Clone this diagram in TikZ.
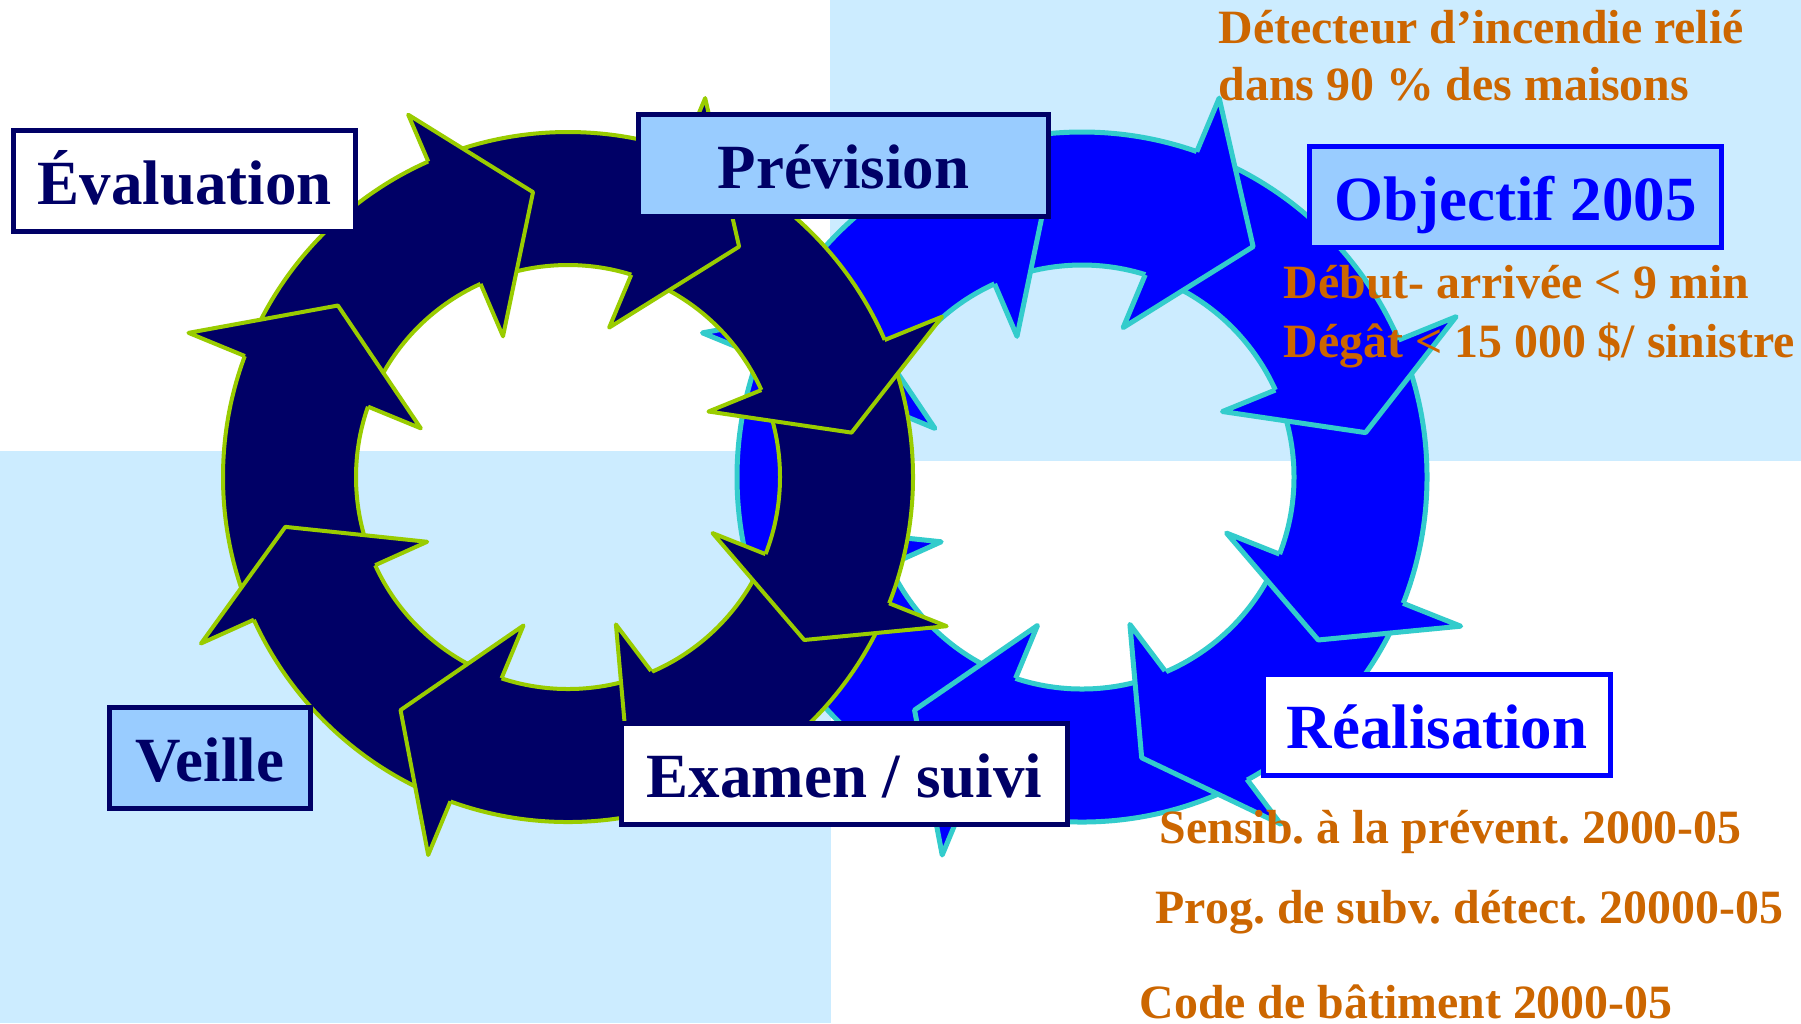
\documentclass[tikz,border=0pt]{standalone}
\usepackage{fontspec}
\setmainfont{Liberation Serif}
\usetikzlibrary{calc}
\frenchspacing

\definecolor{navy}{HTML}{000066}
\definecolor{limeline}{HTML}{99CC00}
\definecolor{ringblue}{HTML}{0000FF}
\definecolor{cyanline}{HTML}{33CCCC}
\definecolor{paleblue}{HTML}{99CCFF}
\definecolor{skyback}{HTML}{CCECFF}
\definecolor{ochre}{HTML}{CC6600}

% ring of eight curved arrows: center, fill, outline, line width
\newcommand{\arrowring}[4]{%
  \begin{scope}[shift={#1}, yscale=-1, line width=#4, line join=round]
    \path[fill=#2, draw=#3, even odd rule] (0,0) circle[radius=345] (0,0) circle[radius=212];
    \foreach \ao/\ro/\ai/\at in {159.2/406/161.7/143.3, 113.8/396/114.8/97, 70.1/403/74.6/53.4, 23.2/407/25/8.9,
                                 -21.5/407/-21.2/-34.6, -60.2/400/-72/-78, -110.3/403/-106.7/-125.7, -155.6/403/-155.3/-170}{
      \coordinate (ob) at (\ao:\ro);
      \coordinate (ib) at (\ai:155);
      \coordinate (tp) at (\at:287);
      \pgfmathsetmacro\notchout{(\ro-345)/(\ro-155)}
      \pgfmathsetmacro\notchin{(\ro-212)/(\ro-155)}
      \fill[#2] (ob) -- (tp) -- (ib) -- cycle;
      \draw[#3] ($(ob)!\notchout!(ib)$) -- (ob) -- (tp) -- (ib) -- ($(ob)!\notchin!(ib)$);
    }
  \end{scope}}

\begin{document}
\begin{tikzpicture}[x=0.01cm, y=-0.01cm,
    lbl/.style={draw=navy, text=navy, line width=0.05cm, inner sep=0pt, minimum height=1.01cm,
                font=\fontsize{17.9}{20}\selectfont\bfseries, text height=13.2pt, text depth=0pt},
    bluelbl/.style={lbl, draw=ringblue, text=ringblue},
    note/.style={anchor=base west, inner sep=0pt, text=ochre, font=\fontsize{13.6}{16}\selectfont\bfseries}]
  \useasboundingbox (0,0) rectangle (1801,1023);
  \fill[white] (0,0) rectangle (1801,1023);
  \fill[skyback] (830,0) rectangle (1801,461);
  \fill[skyback] (0,451) rectangle (831,1023);

  \arrowring{(1082,477)}{ringblue}{cyanline}{0.05cm}
  \arrowring{(568,477)}{navy}{limeline}{0.04cm}

  \node[lbl, fill=white, minimum width=3.415cm] (eval) at (184.75,181) {Évaluation};
  \node[lbl, fill=paleblue, minimum width=4.10cm] (prev) at (843.5,165.5) {Prévision};
  \node[bluelbl, fill=paleblue, minimum width=4.12cm] (obj) at (1515.5,197) {Objectif 2005};
  \node[bluelbl, fill=white, minimum width=3.47cm] (real) at (1437,725) {Réalisation};
  \node[lbl, fill=paleblue, minimum width=2.01cm] (veille) at (210,758) {Veille};
  \node[lbl, fill=white, minimum width=4.46cm] (exam) at (844.5,774) {Examen / suivi};

  \node[note] (det1) at (1218,43) {Détecteur d’incendie relié};
  \node[note] (det2) at (1218,100) {dans 90 \% des maisons};
  \node[note] (delai) at (1283,298) {Début- arrivée < 9 min};
  \node[note] (degat) at (1283,357) {Dégât < 15 000 \$/ sinistre};
  \node[note] (sensib) at (1159,843) {Sensib. à la prévent. 2000-05};
  \node[note] (subv) at (1155,923) {Prog. de subv. détect. 20000-05};
  \node[note] (code) at (1139,1018) {Code de bâtiment 2000-05};
\end{tikzpicture}
\end{document}
